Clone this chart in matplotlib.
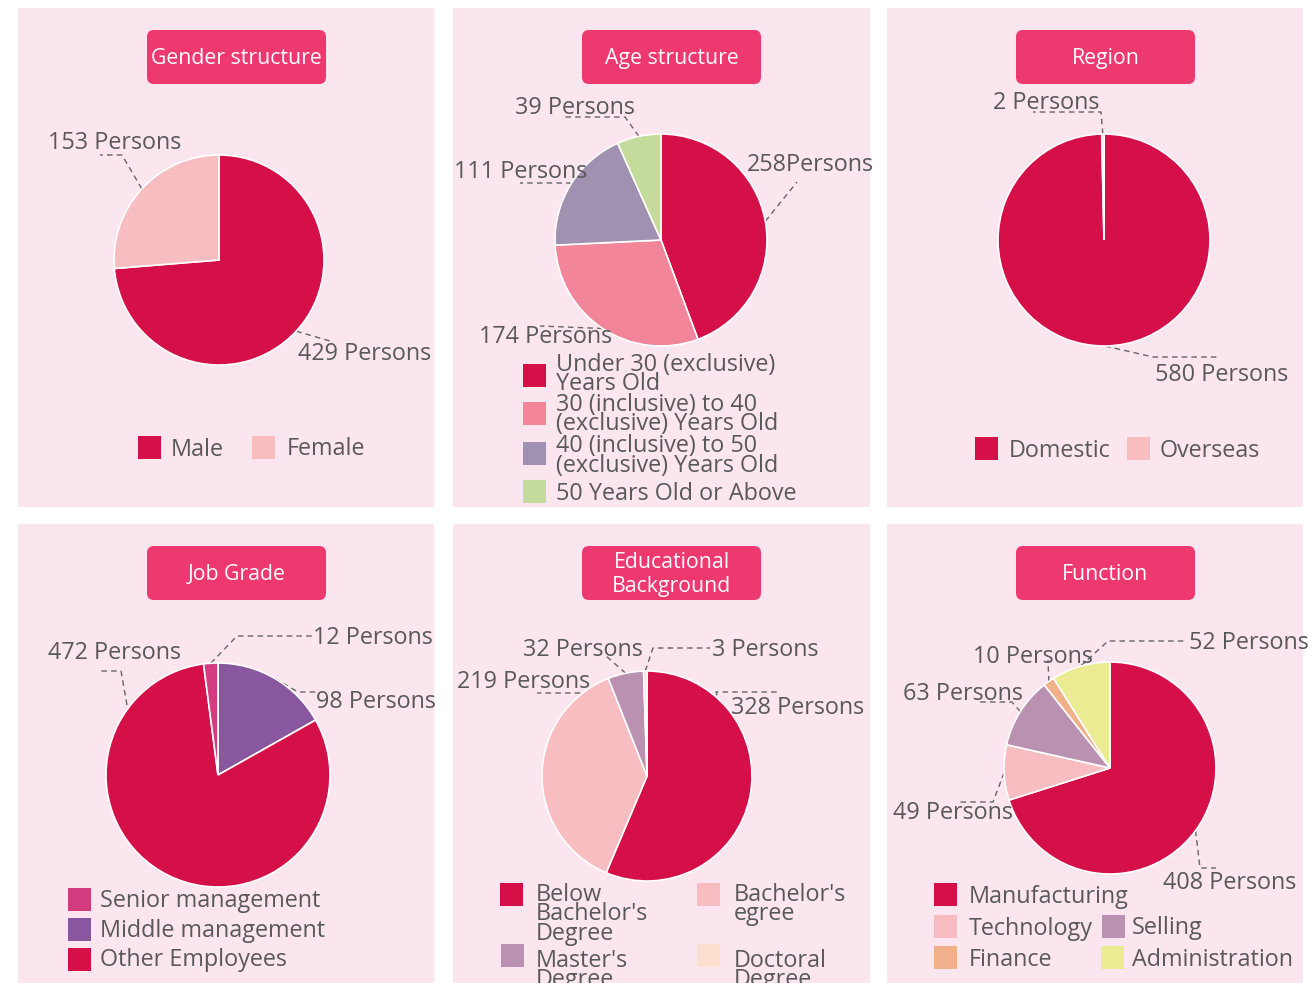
import matplotlib.pyplot as plt
from matplotlib.patches import Rectangle, FancyBboxPatch
import numpy as np

plt.rcParams['font.family'] = ['Open Sans', 'DejaVu Sans']

W, H = 1308, 983

# --- DATA ---
gender_labels = ['Male', 'Female']
gender_values = [429, 153]
gender_colors = ['#D50F47', '#F7BDC0']

age_labels = ['Under 30 (exclusive)\nYears Old',
              '30 (inclusive) to 40\n(exclusive) Years Old',
              '40 (inclusive) to 50\n(exclusive) Years Old',
              '50 Years Old or Above']
age_values = [258, 174, 111, 39]
age_colors = ['#D50F47', '#F28599', '#A091B0', '#C5DB9C']
age_seps = ['', ' ', ' ', ' ']

region_labels = ['Domestic', 'Overseas']
region_values = [580, 2]
region_colors = ['#D50F47', '#F7BDC0']

job_labels = ['Senior management', 'Middle management', 'Other Employees']
job_values = [12, 98, 472]
job_colors = ['#D43C80', '#8956A0', '#D50F47']
job_pie_order = [1, 2, 0]

edu_labels = ["Below\nBachelor's\nDegree", "Bachelor's\negree",
              "Master's\nDegree", "Doctoral\nDegree"]
edu_values = [328, 219, 32, 3]
edu_colors = ['#D50F47', '#F7BDC0', '#BA91B0', '#FDDFD0']

func_labels = ['Manufacturing', 'Technology', 'Selling', 'Finance', 'Administration']
func_values = [408, 49, 63, 10, 52]
func_colors = ['#D50F47', '#F7BDC0', '#BA91B0', '#F0B08A', '#EBEB94']

# --- STYLE ---
BG = '#FBE5EE'
TITLE_BG = '#EE3870'
TEXT = '#595959'
FS = 16.8
PITCH = 19.5   # line pitch of wrapped legend entries, px

fig = plt.figure(figsize=(W / 100, H / 100), dpi=100)
ax = fig.add_axes([0, 0, 1, 1])

col_x = [18, 453, 887]
col_w = [416, 417, 416]
row_y = [8, 524]
row_h = [499, 459]
box_x = [147, 582, 1016]
box_y = [30, 546]


def put(x, y, s):
    # y is the visual middle of the glyphs
    ax.text(x, y + 3, s, color=TEXT, fontsize=FS, ha='left', va='center', zorder=5)


def panel(col, row, title):
    ax.add_patch(Rectangle((col_x[col], row_y[row]), col_w[col], row_h[row],
                           facecolor=BG, edgecolor='none', zorder=0))
    ax.add_patch(FancyBboxPatch((box_x[col], box_y[row]), 179, 54,
                                boxstyle='round,pad=0,rounding_size=7',
                                facecolor=TITLE_BG, edgecolor='none', zorder=1))
    ax.text(box_x[col] + 89.5, box_y[row] + 28.5, title, color='white',
            fontsize=15.3, ha='center', va='center', linespacing=1.22, zorder=2)


def pie(values, colors, center, radius, order=None):
    # y axis is inverted, so counterclock=True renders clockwise from the top
    idx = list(order) if order is not None else list(range(len(values)))
    wedges, _ = ax.pie([values[i] for i in idx], colors=[colors[i] for i in idx],
                       startangle=-90, counterclock=True, center=center,
                       radius=radius, frame=True,
                       wedgeprops=dict(edgecolor='white', linewidth=1.2, zorder=3))
    return {i: w for i, w in zip(idx, wedges)}


def labels(wedges, values, center, radius, layout, seps=None):
    for i, (tx, ty, pts) in enumerate(layout):
        w = wedges[i]
        mid = np.radians((w.theta1 + w.theta2) / 2)
        sx = center[0] + radius * np.cos(mid)
        sy = center[1] + radius * np.sin(mid)
        xs = [sx] + [p[0] for p in pts]
        ys = [sy] + [p[1] for p in pts]
        ax.plot(xs, ys, color='#666666', lw=1, ls=(0, (4, 3)), zorder=2)
        sep = seps[i] if seps else ' '
        put(tx, ty - 1, f'{values[i]}{sep}Persons')


def legend(names, colors, items):
    # items: (index, square top-left, text left / first-line middle)
    for i, (sx, sy), (tx, ty) in items:
        ax.add_patch(Rectangle((sx, sy), 23, 23, facecolor=colors[i],
                               edgecolor='none', zorder=3))
        for k, line in enumerate(names[i].split('\n')):
            put(tx, ty + k * PITCH, line)


# Gender structure
panel(0, 0, 'Gender structure')
c, r = (219, 260), 105
wd = pie(gender_values, gender_colors, c, r)
labels(wd, gender_values, c, r, [
    (298, 352, [(330, 341)]),
    (48, 141, [(122, 155), (100, 155)]),
])
legend(gender_labels, gender_colors, [(0, (138, 436), (171, 447)),
                                      (1, (252, 436), (287, 446))])

# Age structure
panel(1, 0, 'Age structure')
c, r = (661, 240), 106
wd = pie(age_values, age_colors, c, r)
labels(wd, age_values, c, r, [
    (747, 163, [(797, 182)]),
    (479, 335, [(540, 326)]),
    (454, 170, [(570, 183), (520, 183)]),
    (515, 106, [(625, 117), (563, 117)]),
], seps=age_seps)
legend(age_labels, age_colors, [(0, (523, 364), (556, 362)),
                                (1, (523, 402), (556, 402)),
                                (2, (523, 442), (556, 443)),
                                (3, (523, 480), (556, 491))])

# Region
panel(2, 0, 'Region')
c, r = (1104, 240), 106
wd = pie(region_values, region_colors, c, r)
labels(wd, region_values, c, r, [
    (1155, 373, [(1153, 357), (1218, 357)]),
    (993, 101, [(1101, 112), (1033, 112)]),
])
legend(region_labels, region_colors, [(0, (975, 437), (1009, 448)),
                                      (1, (1127, 437), (1160, 448))])

# Job Grade
panel(0, 1, 'Job Grade')
c, r = (218, 775), 112
wd = pie(job_values, job_colors, c, r, order=job_pie_order)
labels(wd, job_values, c, r, [
    (313, 636, [(237, 636), (312, 636)]),
    (316, 700, [(298, 692), (318, 692)]),
    (48, 651, [(127, 705), (121, 671), (100, 671)]),
])
legend(job_labels, job_colors, [(0, (68, 888), (100, 898)),
                                (1, (68, 918), (100, 928)),
                                (2, (68, 948), (100, 957))])

# Educational Background
panel(1, 1, 'Educational\nBackground')
c, r = (647, 776), 105
wd = pie(edu_values, edu_colors, c, r)
labels(wd, edu_values, c, r, [
    (731, 706, [(716, 692), (780, 692)]),
    (457, 680, [(585, 693), (537, 693)]),
    (523, 648, [(605, 655)]),
    (712, 648, [(653, 648), (710, 648)]),
])
legend(edu_labels, edu_colors, [(0, (500, 883), (536, 892)),
                                (1, (697, 883), (734, 892)),
                                (2, (501, 944), (536, 958)),
                                (3, (697, 944), (734, 958))])

# Function
panel(2, 1, 'Function')
c, r = (1110, 768), 106
wd = pie(func_values, func_colors, c, r)
labels(wd, func_values, c, r, [
    (1163, 881, [(1200, 868), (1216, 868)]),
    (893, 811, [(993, 802), (960, 802)]),
    (903, 692, [(1012, 702), (980, 702)]),
    (973, 655, [(1048, 660)]),
    (1189, 641, [(1108, 641), (1187, 641)]),
])
legend(func_labels, func_colors, [(0, (934, 883), (969, 894)),
                                  (1, (934, 915), (969, 926)),
                                  (2, (1102, 915), (1132, 925)),
                                  (3, (934, 946), (969, 957)),
                                  (4, (1101, 946), (1132, 957))])

ax.set_xlim(0, W)
ax.set_ylim(H, 0)
ax.set_aspect('equal')
ax.axis('off')

fig.savefig('out.png', dpi=100, facecolor='white')
